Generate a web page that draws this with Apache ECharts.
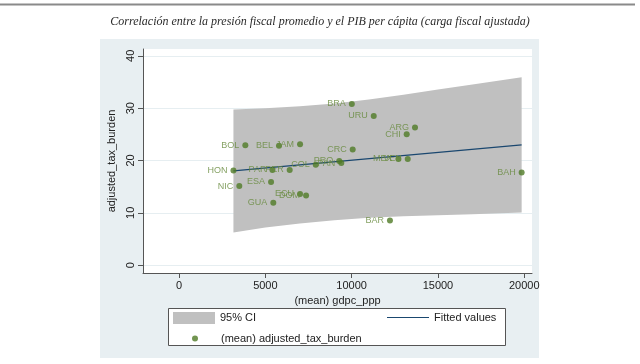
<!DOCTYPE html>
<html>
<head>
<meta charset="utf-8">
<script src="https://cdn.jsdelivr.net/npm/echarts@6/dist/echarts.min.js"></script>
<style>
html,body{margin:0;padding:0;background:#fff;}
#c{width:640px;height:364px;}
</style>
</head>
<body>
<div id="c"></div>
<script>
// ---- data ----
var countries = ['BRA','URU','ARG','CHI','CRC','BOL','BEL','JAM','HON','PAR','PER','NIC','ESA','GUA','ECU','DOM','COL','PRO','PAN','MEX','VEN','BAH','BAR'];
var gdpc = [10010, 11280, 13670, 13190, 10060, 3840, 5790, 7010, 3150, 5410, 6410, 3490, 5330, 5460, 7010, 7360, 7920, 9280, 9400, 12710, 13250, 19850, 12220];
var taxBurden = [30.8, 28.5, 26.3, 25.0, 22.1, 22.9, 22.8, 23.1, 18.1, 18.2, 18.2, 15.1, 15.9, 11.9, 13.6, 13.3, 19.2, 19.9, 19.5, 20.3, 20.3, 17.7, 8.55];

var fitX = [3150, 19850];
var fitY = [18.02, 22.98];

var ciX = [3150, 5000, 7000, 9000, 11000, 13000, 15000, 17000, 19850];
var ciLow = [6.26, 7.17, 7.96, 8.6, 9.05, 9.34, 9.54, 9.73, 10.08];
var ciHigh = [29.76, 29.97, 30.36, 30.9, 31.65, 32.54, 33.54, 34.53, 35.88];

var xTicks = [0, 5000, 10000, 15000, 20000];
var yTicks = [0, 10, 20, 30, 40];

var titleText = 'Correlación entre la presión fiscal promedio y el PIB per cápita (carga fiscal ajustada)';

// ---- build series data ----
var scatterData = gdpc.map(function (g, i) { return { value: [g, taxBurden[i]], name: countries[i] }; });
var fitData = fitX.map(function (x, i) { return [x, fitY[i]]; });
var bandData = ciX.map(function (x, i) { return [x, ciLow[i], ciHigh[i]]; });

var FONT = '"Liberation Sans", Arial, Helvetica, sans-serif';
var chart = echarts.init(document.getElementById('c'), null, { renderer: 'canvas' });

function renderBand(params, api) {
  if (params.dataIndex !== 0) return null;
  var pts = [];
  for (var i = 0; i < ciX.length; i++) pts.push(api.coord([ciX[i], ciHigh[i]]));
  for (var j = ciX.length - 1; j >= 0; j--) pts.push(api.coord([ciX[j], ciLow[j]]));
  return {
    type: 'polygon',
    shape: { points: pts },
    style: { fill: '#c0c0c0', stroke: 'none' }
  };
}

chart.setOption({
  animation: false,
  backgroundColor: '#ffffff',
  textStyle: { fontFamily: FONT },
  graphic: [
    { type: 'line', z: -20, shape: { x1: 0, y1: 4.5, x2: 635, y2: 4.5 }, style: { stroke: '#8a8a8a', lineWidth: 2 } },
    { type: 'rect', z: -20, shape: { x: 100, y: 39, width: 439, height: 319 }, style: { fill: '#e8eff2' } },
    { type: 'rect', z: 5, shape: { x: 168.5, y: 308.5, width: 337, height: 37 }, style: { fill: '#ffffff', stroke: '#555555', lineWidth: 1 } }
  ],
  title: {
    text: titleText,
    left: 'center',
    top: 11,
    textStyle: { fontFamily: '"Liberation Serif", "DejaVu Serif", serif', fontStyle: 'italic', fontWeight: 'normal', fontSize: 12, color: '#2a2a2a' }
  },
  grid: {
    left: 143, right: 108, top: 49, bottom: 91,
    show: true, backgroundColor: '#ffffff', borderWidth: 0
  },
  legend: [
    {
      data: ['95% CI'], left: 173, top: 312, padding: 0, z: 10,
      icon: 'rect', itemWidth: 42, itemHeight: 12,
      textStyle: { fontSize: 11, color: '#222', fontFamily: FONT }
    },
    {
      data: ['Fitted values'], left: 387, top: 312, padding: 0, z: 10,
      icon: 'path://M0,0L42,0L42,1.2L0,1.2Z', itemWidth: 42, itemHeight: 12,
      textStyle: { fontSize: 11, color: '#222', fontFamily: FONT }
    },
    {
      data: ['(mean) adjusted_tax_burden'], left: 192, top: 333, padding: 0, z: 10,
      icon: 'circle', itemWidth: 42, itemHeight: 6,
      textStyle: { fontSize: 11, color: '#222', fontFamily: FONT }
    }
  ],
  xAxis: {
    type: 'value', min: -2090, max: 20450,
    name: '(mean) gdpc_ppp', nameLocation: 'middle', nameGap: 18,
    nameTextStyle: { fontSize: 11, color: '#222', fontFamily: FONT },
    axisLine: { show: true, onZero: false, lineStyle: { color: '#555', width: 1 } },
    axisTick: { show: true, inside: false, length: 5, customValues: xTicks, lineStyle: { color: '#555' } },
    axisLabel: { customValues: xTicks, margin: 7, fontSize: 11, color: '#222', fontFamily: FONT,
      formatter: function (v) { return String(v); } },
    splitLine: { show: false }
  },
  yAxis: {
    type: 'value', min: -1.5, max: 41.3,
    name: 'adjusted_tax_burden', nameLocation: 'middle', nameGap: 20, nameRotate: 90,
    nameTextStyle: { fontSize: 11, color: '#222', fontFamily: FONT },
    axisLine: { show: true, onZero: false, lineStyle: { color: '#555', width: 1 } },
    axisTick: { show: true, inside: false, length: 5, customValues: yTicks, lineStyle: { color: '#555' } },
    axisLabel: { customValues: yTicks, rotate: 90, margin: 7, fontSize: 11, color: '#222', fontFamily: FONT,
      formatter: function (v) { return String(v); } },
    splitLine: { show: true, lineStyle: { color: '#e6eef1', width: 1 } }
  },
  series: [
    {
      name: '95% CI', type: 'custom', data: bandData,
      encode: { x: 0, y: [1, 2] },
      renderItem: renderBand, clip: true, silent: true, z: 1,
      itemStyle: { color: '#c0c0c0' }
    },
    {
      name: 'Fitted values', type: 'line', data: fitData, symbol: 'none',
      lineStyle: { color: '#1a476f', width: 1.2 }, itemStyle: { color: '#1a476f' }, z: 3
    },
    {
      name: '(mean) adjusted_tax_burden', type: 'scatter', data: scatterData,
      symbol: 'circle', symbolSize: 6,
      itemStyle: { color: '#4f7a26' }, z: 4,
      label: {
        show: true, position: 'left', distance: 3,
        formatter: function (p) { return p.name; },
        fontSize: 9, color: '#668a3c', fontFamily: FONT
      }
    }
  ]
});
</script>
</body>
</html>
